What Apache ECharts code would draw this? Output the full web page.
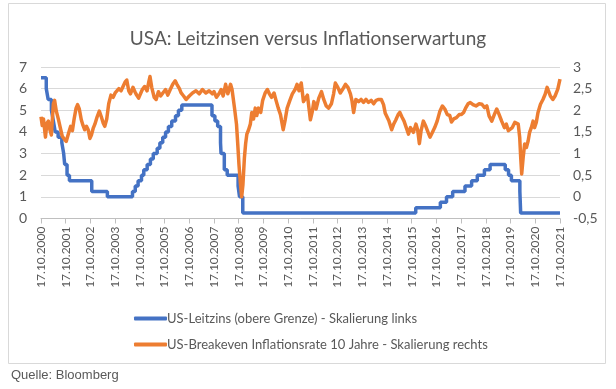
<!DOCTYPE html>
<html><head><meta charset="utf-8">
<script src="https://cdn.jsdelivr.net/npm/echarts@6/dist/echarts.min.js"></script>
<style>html,body{margin:0;padding:0;background:#fff}#c{width:616px;height:389px}</style>
</head><body><div id="c"></div>
<script>
// ---- data ----
const titleText = 'USA: Leitzinsen versus Inflationserwartung';
const sourceText = 'Quelle: Bloomberg';
const seriesNames = ['US-Leitzins (obere Grenze) - Skalierung links', 'US-Breakeven Inflationsrate 10 Jahre - Skalierung rechts'];
const startYear = 2000;            // x axis: years since 17.10.2000
const tickYears = 21;
// Fed funds upper bound: change dates and new levels (left axis)
const rateDates = ['2000-10-17','2001-01-03','2001-01-31','2001-03-20','2001-04-18','2001-05-15','2001-06-27','2001-08-21','2001-09-17','2001-10-02','2001-11-06','2001-12-11','2002-11-06','2003-06-25','2004-06-30','2004-08-10','2004-09-21','2004-11-10','2004-12-14','2005-02-02','2005-03-22','2005-05-03','2005-06-30','2005-08-09','2005-09-20','2005-11-01','2005-12-13','2006-01-31','2006-03-28','2006-05-10','2006-06-29','2007-09-18','2007-10-31','2007-12-11','2008-01-22','2008-01-30','2008-03-18','2008-04-30','2008-10-08','2008-10-29','2008-12-16','2015-12-16','2016-12-14','2017-03-15','2017-06-14','2017-12-13','2018-03-21','2018-06-13','2018-09-26','2018-12-19','2019-07-31','2019-09-18','2019-10-30','2020-03-03','2020-03-15','2021-10-17'];
const rateValues = [6.5,6.0,5.5,5.0,4.5,4.0,3.75,3.5,3.0,2.5,2.0,1.75,1.25,1.0,1.25,1.5,1.75,2.0,2.25,2.5,2.75,3.0,3.25,3.5,3.75,4.0,4.25,4.5,4.75,5.0,5.25,4.75,4.5,4.25,3.5,3.0,2.25,2.0,1.5,1.0,0.25,0.5,0.75,1.0,1.25,1.5,1.75,2.0,2.25,2.5,2.25,2.0,1.75,1.25,0.25,0.25];
// 10y breakeven: years since 17.10.2000 and level (right axis)
const bkYears = [0.00,0.05,0.10,0.18,0.24,0.30,0.36,0.42,0.50,0.55,0.62,0.70,0.78,0.86,0.95,1.02,1.07,1.13,1.20,1.27,1.34,1.42,1.48,1.55,1.63,1.70,1.77,1.84,1.91,1.98,2.04,2.11,2.18,2.26,2.36,2.44,2.52,2.58,2.66,2.74,2.83,2.92,3.00,3.07,3.15,3.24,3.32,3.40,3.47,3.55,3.62,3.72,3.80,3.87,3.95,4.00,4.10,4.19,4.29,4.36,4.41,4.48,4.58,4.66,4.75,4.84,4.93,5.04,5.13,5.23,5.33,5.43,5.50,5.60,5.67,5.77,5.87,6.00,6.13,6.27,6.40,6.53,6.67,6.80,6.93,7.00,7.10,7.20,7.29,7.37,7.47,7.56,7.67,7.73,7.83,7.91,7.96,8.01,8.07,8.12,8.17,8.23,8.28,8.33,8.40,8.47,8.53,8.60,8.67,8.73,8.80,8.89,8.97,9.07,9.16,9.24,9.33,9.43,9.51,9.60,9.69,9.80,9.88,9.96,10.07,10.17,10.28,10.36,10.44,10.53,10.62,10.70,10.78,10.90,10.97,11.04,11.13,11.24,11.35,11.44,11.54,11.64,11.75,11.84,11.91,12.01,12.11,12.20,12.32,12.42,12.52,12.58,12.65,12.74,12.85,12.95,13.05,13.15,13.25,13.36,13.46,13.56,13.66,13.77,13.86,13.93,14.00,14.08,14.19,14.27,14.36,14.45,14.52,14.60,14.69,14.78,14.87,14.95,15.07,15.17,15.24,15.31,15.38,15.47,15.57,15.67,15.74,15.83,15.93,16.03,16.14,16.24,16.34,16.44,16.54,16.61,16.70,16.81,16.92,17.01,17.10,17.18,17.28,17.37,17.48,17.60,17.73,17.84,17.95,18.04,18.13,18.24,18.35,18.44,18.53,18.64,18.75,18.83,18.91,18.99,19.07,19.17,19.24,19.31,19.37,19.41,19.45,19.51,19.57,19.64,19.71,19.77,19.84,19.91,19.97,20.04,20.11,20.21,20.31,20.40,20.48,20.53,20.61,20.71,20.80,20.91,20.97,21.00];
const bkValues = [1.85,1.65,1.80,1.38,1.70,1.75,1.55,1.43,2.15,2.23,1.98,1.80,1.60,1.40,1.33,1.28,1.25,1.50,1.63,1.53,1.80,2.05,2.13,2.03,1.78,1.65,1.55,1.63,1.55,1.35,1.43,1.58,1.68,1.83,1.98,1.85,1.70,1.63,1.80,2.15,2.35,2.30,2.40,2.38,2.50,2.45,2.55,2.65,2.70,2.45,2.38,2.53,2.43,2.35,2.28,2.30,2.48,2.55,2.45,2.65,2.78,2.53,2.30,2.25,2.43,2.33,2.40,2.48,2.35,2.48,2.60,2.68,2.60,2.50,2.40,2.33,2.25,2.33,2.40,2.45,2.38,2.48,2.40,2.45,2.38,2.43,2.30,2.38,2.48,2.33,2.60,2.38,2.60,2.48,2.05,1.68,1.23,0.75,0.30,0.00,0.28,0.90,1.23,1.45,1.55,1.68,1.95,1.80,2.05,1.88,2.05,1.95,2.23,2.40,2.48,2.38,2.30,2.40,2.23,2.05,1.90,1.55,1.78,2.05,2.23,2.38,2.48,2.60,2.45,2.63,2.20,2.23,2.35,1.78,1.95,2.20,2.03,2.28,2.43,2.25,2.10,2.05,2.15,2.38,2.63,2.53,2.40,2.48,2.60,2.53,2.38,2.23,1.95,2.25,2.20,2.25,2.18,2.25,2.18,2.23,2.15,2.23,2.25,2.25,2.13,1.93,1.93,1.75,1.55,1.68,1.78,1.90,1.95,1.85,1.75,1.60,1.45,1.60,1.49,1.68,1.55,1.23,1.53,1.75,1.63,1.48,1.38,1.48,1.60,1.75,1.98,2.10,2.03,1.90,1.88,1.73,1.80,1.83,1.90,1.90,1.95,2.05,2.15,2.18,2.13,2.10,2.15,2.14,2.06,2.10,1.87,1.75,1.91,2.03,1.91,1.75,1.60,1.68,1.53,1.49,1.60,1.72,1.75,1.68,1.37,0.91,0.53,0.91,1.22,1.14,1.29,1.49,1.60,1.75,1.60,1.72,1.95,2.14,2.25,2.37,2.53,2.56,2.33,2.25,2.33,2.49,2.53,2.72];

// ---- build ----
const t0 = Date.UTC(2000, 9, 17);
function yearsSince(s) {
  const p = s.split('-').map(Number);
  return (Date.UTC(p[0], p[1] - 1, p[2]) - t0) / (365.25 * 864e5);
}
const rateData = rateDates.map((d, i) => [yearsSince(d), rateValues[i]]);
const bkData = bkYears.map((t, i) => [t, bkValues[i]]);

const txt = '#595959';
const chart = echarts.init(document.getElementById('c'));
chart.setOption({
  animation: false,
  backgroundColor: '#fff',
  title: { text: titleText, left: 'center', top: 24,
    textStyle: { fontFamily: 'Lato', fontSize: 19, fontWeight: 'normal', color: txt } },
  graphic: [
    { type: 'rect', shape: { x: 8.5, y: 3.5, width: 597, height: 360 },
      style: { fill: 'none', stroke: '#D9D9D9', lineWidth: 1 }, z: -1 },
    { type: 'text', left: 11, top: 369,
      style: { text: sourceText, font: '13px "Liberation Sans"', fill: txt } }
  ],
  legend: {
    orient: 'vertical', left: 129, top: 307, itemGap: 13,
    itemWidth: 33, itemHeight: 4, icon: 'roundRect',
    textStyle: { fontFamily: 'Lato', fontSize: 13, color: txt, padding: [0, 0, 0, -5] },
    data: seriesNames
  },
  grid: { left: 41, right: 56, top: 67, height: 151.5 },
  xAxis: {
    type: 'value', min: 0, max: tickYears, interval: 1,
    axisLine: { lineStyle: { color: '#BFBFBF' } },
    axisTick: { show: true, length: 5, lineStyle: { color: '#BFBFBF' } },
    splitLine: { show: false },
    axisLabel: { rotate: 90, fontFamily: 'Lato', fontSize: 12, color: txt, margin: 8,
      formatter: v => '17.10.' + (startYear + v) }
  },
  yAxis: [
    { type: 'value', min: 0, max: 7, interval: 1,
      axisLine: { show: false }, axisTick: { show: false },
      splitLine: { lineStyle: { color: '#D9D9D9' } },
      axisLabel: { fontFamily: 'Lato', fontSize: 14, color: txt, margin: 14 } },
    { type: 'value', min: -0.5, max: 3, interval: 0.5, position: 'right',
      axisLine: { show: false }, axisTick: { show: false }, splitLine: { show: false },
      axisLabel: { fontFamily: 'Lato', fontSize: 14, color: txt, margin: 13, align: 'left',
        formatter: v => String(v).replace('.', ',') } }
  ],
  series: [
    { name: seriesNames[0], type: 'line', yAxisIndex: 0, step: 'end', data: rateData,
      showSymbol: false, lineStyle: { color: '#4472C4', width: 3.5 }, itemStyle: { color: '#4472C4' } },
    { name: seriesNames[1], type: 'line', yAxisIndex: 1, data: bkData,
      showSymbol: false, lineStyle: { color: '#ED7D31', width: 3.5, join: 'round' }, itemStyle: { color: '#ED7D31' } }
  ]
});
</script></body></html>
